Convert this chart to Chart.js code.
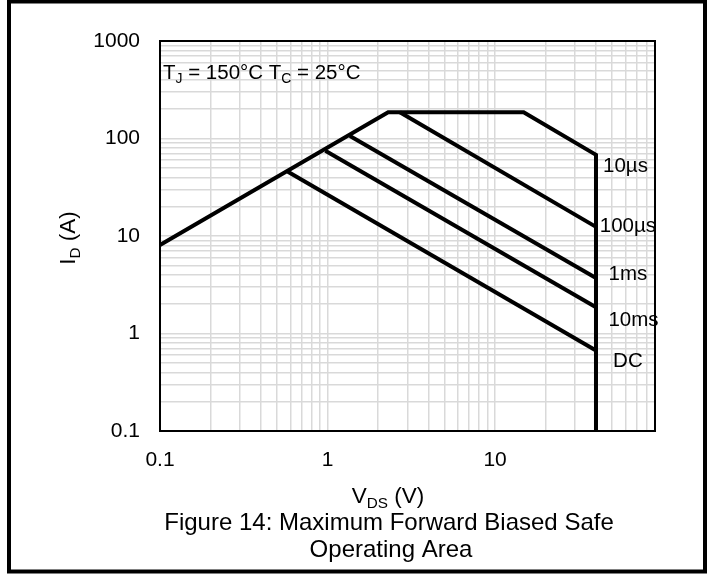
<!DOCTYPE html>
<html>
<head>
<meta charset="utf-8">
<title>Figure 14: Maximum Forward Biased Safe Operating Area</title>
<script src="https://cdn.jsdelivr.net/npm/chart.js@4.4.1/dist/chart.umd.min.js"></script>
<style>
  html, body { margin: 0; padding: 0; background: #fff; }
  #soaChart { display: block; }
</style>
</head>
<body>
<canvas id="soaChart" width="707" height="575"></canvas>
<script>
// SOA boundaries (V in volts, I in amps)
const limitV = [0.1, 2.3, 14.8, 40, 40];   // Rds(on) line, 10us envelope, Vds max
const limitI = [8.1, 186, 186, 68, 0.1];
const v100us = [2.7, 40];
const i100us = [186, 12.4];
const v1ms = [1.36, 40];
const i1ms = [106, 3.7];
const v10ms = [0.97, 40];
const i10ms = [75, 1.86];
const vDC = [0.58, 40];
const iDC = [45.7, 0.67];

const pulseLabels = ['10µs', '100µs', '1ms', '10ms', 'DC'];
const pulseLabelV = [60, 62, 62, 67, 62];
const pulseLabelI = [52, 12.7, 4.0, 1.37, 0.52];

const xTickLabels = ['0.1', '1', '10'];
const yTickLabels = ['0.1', '1', '10', '100', '1000'];

const FONT = '"Liberation Sans", Arial, sans-serif';

// 1..9 x 10^n grid positions between min and max
function logGrid(min, max) {
    const out = [];
    for (let e = Math.floor(Math.log10(min)); e <= Math.ceil(Math.log10(max)); e++) {
        for (let m = 1; m <= 9; m++) {
            const v = Number((m * Math.pow(10, e)).toPrecision(3));
            if (v >= min - 1e-9 && v <= max + 1e-9) out.push(v);
        }
    }
    return out;
}

function toPoints(xs, ys) {
    return xs.map((v, i) => ({ x: v, y: ys[i] }));
}

function line(data) {
    return {
        data: data,
        borderColor: '#000',
        borderWidth: 4,
        pointRadius: 0,
        fill: false,
        tension: 0,
        clip: false,
        borderJoinStyle: 'miter'
    };
}

// text with subscripts: parts = [[text, isSub], ...]
function drawParts(ctx, parts, x, y, size, align) {
    let total = 0;
    const widths = parts.map(([t, sub]) => {
        ctx.font = (sub ? size * 0.68 : size) + 'px ' + FONT;
        const w = ctx.measureText(t).width;
        total += w;
        return w;
    });
    let cx = align === 'center' ? x - total / 2 : x;
    ctx.textAlign = 'left';
    ctx.textBaseline = 'alphabetic';
    parts.forEach(([t, sub], i) => {
        ctx.font = (sub ? size * 0.68 : size) + 'px ' + FONT;
        ctx.fillText(t, cx, sub ? y + size * 0.2 : y);
        cx += widths[i];
    });
}

const decorations = {
    id: 'decorations',
    beforeDraw(chart) {
        const ctx = chart.ctx;
        ctx.save();
        ctx.fillStyle = '#fff';
        ctx.fillRect(0, 0, chart.width, chart.height);
        // outer frame
        ctx.strokeStyle = '#000';
        ctx.lineWidth = 4;
        ctx.strokeRect(9, 1.5, 696, 570);
        ctx.restore();
    },
    beforeDatasetsDraw(chart) {
        const { ctx, chartArea: a } = chart;
        ctx.save();
        ctx.strokeStyle = '#000';
        ctx.lineWidth = 2;
        ctx.strokeRect(a.left, a.top, a.right - a.left, a.bottom - a.top);
        ctx.restore();
    },
    afterDraw(chart) {
        const { ctx, scales: { x, y } } = chart;
        ctx.save();
        ctx.fillStyle = '#000';

        drawParts(ctx, [['T', false], ['J', true], [' = 150°C T', false], ['C', true], [' = 25°C', false]], 163, 79, 20.5, 'left');

        ctx.font = '20.5px ' + FONT;
        ctx.textAlign = 'center';
        ctx.textBaseline = 'middle';
        pulseLabels.forEach((t, i) => {
            ctx.fillText(t, x.getPixelForValue(pulseLabelV[i]), y.getPixelForValue(pulseLabelI[i]));
        });

        // axis titles and caption
        drawParts(ctx, [['V', false], ['DS', true], [' (V)', false]], 388, 503, 22.5, 'center');

        ctx.save();
        ctx.translate(67, 238);
        ctx.rotate(-Math.PI / 2);
        drawParts(ctx, [['I', false], ['D', true], [' (A)', false]], 0, 8, 22.5, 'center');
        ctx.restore();

        ctx.font = '24px ' + FONT;
        ctx.textAlign = 'center';
        ctx.textBaseline = 'alphabetic';
        ctx.fillText('Figure 14: Maximum Forward Biased Safe', 389, 530);
        ctx.fillText('Operating Area', 391, 557);
        ctx.restore();
    }
};

const gridStyle = { color: '#d9d9d9', lineWidth: 1.5, drawTicks: false };

new Chart(document.getElementById('soaChart'), {
    type: 'line',
    data: {
        datasets: [
            line(toPoints(limitV, limitI)),
            line(toPoints(v100us, i100us)),
            line(toPoints(v1ms, i1ms)),
            line(toPoints(v10ms, i10ms)),
            line(toPoints(vDC, iDC))
        ]
    },
    options: {
        responsive: false,
        animation: false,
        layout: { padding: { left: 0, right: 52, top: 41, bottom: 0 } },
        plugins: {
            legend: { display: false },
            tooltip: { enabled: false }
        },
        scales: {
            x: {
                type: 'logarithmic',
                min: 0.1,
                max: 90,
                afterBuildTicks: s => { s.ticks = logGrid(0.1, 90).map(v => ({ value: v })); },
                afterFit: s => { s.height = 144; },
                grid: gridStyle,
                border: { display: false },
                ticks: {
                    autoSkip: false,
                    maxRotation: 0,
                    minRotation: 0,
                    padding: 17,
                    color: '#000',
                    font: { family: FONT, size: 21 },
                    callback: v => xTickLabels.includes(String(v)) ? String(v) : ''
                }
            },
            y: {
                type: 'logarithmic',
                min: 0.1,
                max: 1000,
                afterBuildTicks: s => { s.ticks = logGrid(0.1, 1000).map(v => ({ value: v })); },
                afterFit: s => { s.width = 160; },
                grid: gridStyle,
                border: { display: false },
                ticks: {
                    autoSkip: false,
                    padding: 20,
                    color: '#000',
                    font: { family: FONT, size: 21 },
                    callback: v => yTickLabels.includes(String(v)) ? String(v) : ''
                }
            }
        }
    },
    plugins: [decorations]
});
</script>
</body>
</html>
